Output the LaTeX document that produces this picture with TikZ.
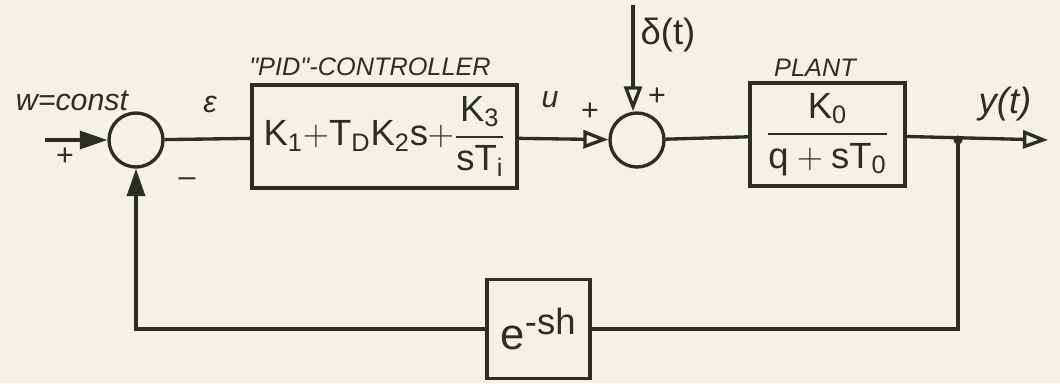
\documentclass[tikz,border=0pt]{standalone}
\usepackage{amsmath}
\usepackage{fontspec}
\setmainfont{Liberation Sans}
\setsansfont{Liberation Sans}
\usepackage{xcolor}
\usepackage{tikz}
\usetikzlibrary{arrows.meta, positioning, calc}

\definecolor{paper}{RGB}{244,241,230}
\definecolor{ink}{RGB}{45,45,40}

\begin{document}
\begin{tikzpicture}[
          x=0.02cm, y=-0.02cm,
          line width=1.9pt, draw=ink, text=ink,
          every node/.style={font=\sffamily},
          block/.style={rectangle, draw=ink, line width=1.9pt, inner sep=2pt},
          summer/.style={circle, draw=ink, line width=1.9pt, minimum size=1.08cm, inner sep=0pt},
          lbl/.style={font=\sffamily\itshape\LARGE},
          sign/.style={font=\sffamily\LARGE},
          openarrow/.style={-{Triangle[open, length=0.5cm, width=0.36cm]}},
          fillarrow/.style={-{Triangle[length=0.55cm, width=0.36cm]}}
        ]
          % paper
          \fill[paper] (0,0) rectangle (1060,383);
          \useasboundingbox (0,0) rectangle (1060,383);

          % blocks and summing points
          \node[summer] (sumA) at (136,140) {};
          \node[block, minimum width=5.3cm, minimum height=2.06cm] (pid) at (384.5,136.5)
            {\huge $\mathsf{K_1{+}T_DK_2s{+}\dfrac{K_3}{sT_i}}$};
          \node[summer] (sumB) at (637,140) {};
          \node[block, minimum width=3.1cm, minimum height=2.06cm] (plant) at (827.5,134.5)
            {\huge $\mathsf{\dfrac{\;K_0\;}{q+sT_0}}$};
          \node[block, minimum width=2.06cm, minimum height=1.98cm] (delay) at (538.5,329)
            {\Huge $\mathsf{e^{\text{-}sh}}$};

          \coordinate (in) at (45,140);
          \coordinate (dist) at (633,5);
          \coordinate (out) at (1048,140);
          \coordinate (split) at (958,140);

          % titles and signal names
          \node[font=\sffamily\itshape\Large] (pidname) at (370,67) {\textquotedbl PID\textquotedbl -CONTROLLER};
          \node[font=\sffamily\itshape\Large] (plantname) at (815,68) {PLANT};
          \node[lbl] (wname) at (72,101) {w=const};
          \node[lbl] (epsname) at (210,104) {ε};
          \node[lbl] (uname) at (550,100) {u};
          \node[lbl, font=\sffamily\huge] (dname) at (668,35) {δ(t)};
          \node[lbl, font=\sffamily\itshape\huge] (yname) at (1005,104) {y(t)};
          \node[sign] (pA) at (65,157) {+};
          \node[sign] (mA) at (187,182) {–};
          \node[sign] (pB) at (590,112) {+};
          \node[sign] (pC) at (657,97) {+};

          % connections
          \draw[fillarrow] (in) -- (sumA.west);
          \draw (sumA) -- (pid);
          \draw[openarrow] (pid) -- (sumB);
          \draw[openarrow] (dist) -- (dist |- sumB.north);
          \draw (sumB) -- (plant);
          \draw[openarrow] (plant) -- (out);
          \fill[ink] (split) circle (4.5);
          \draw (split) |- (delay.east);
          \draw[fillarrow] (delay.west) -| (sumA.south);
        \end{tikzpicture}
\end{document}
